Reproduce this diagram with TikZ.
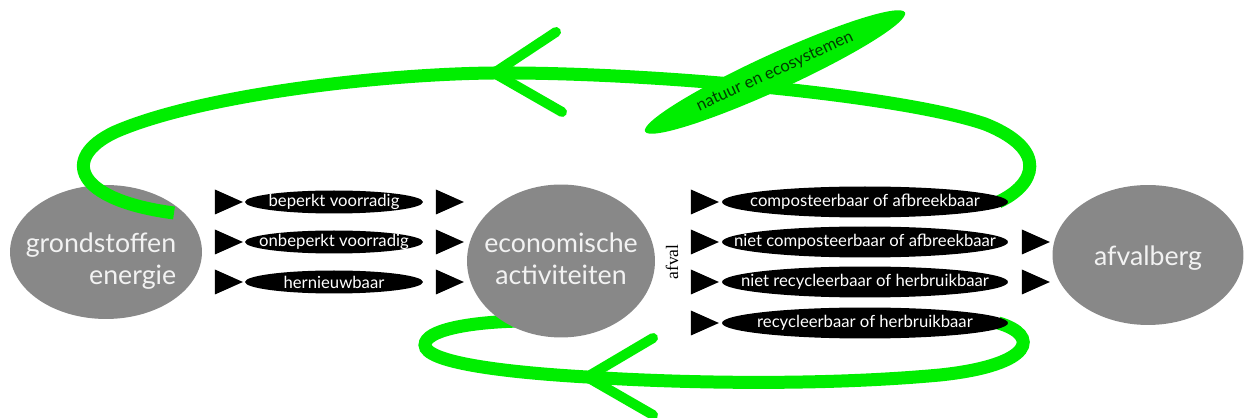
\documentclass[tikz,border=0pt]{standalone}
\usepackage{fontspec}
\setmainfont{Lato}
\newfontfamily\seriffont{Liberation Serif}
\usetikzlibrary{shapes,shapes.geometric,calc,positioning}
\definecolor{lgreen}{RGB}{0, 238, 0}
\definecolor{dgreen}{RGB}{0, 60, 0}
\definecolor{mgray}{RGB}{136, 136, 136}
\definecolor{ltext}{RGB}{242, 242, 242}
\tikzstyle{bubble} = [ellipse, fill=mgray, inner sep=0pt]
\tikzstyle{bubbletext} = [text=ltext, inner sep=0pt, font=\fontsize{15.2}{18.5}\selectfont]
\tikzstyle{kind} = [ellipse, fill=black, inner sep=0pt]
\tikzstyle{kindtext} = [text=white, inner sep=0pt, font=\fontsize{9.5}{11}\selectfont]
\tikzstyle{tri} = [isosceles triangle, isosceles triangle stretches,
  fill=black, inner sep=0pt, minimum width=0.5cm, minimum height=0.56cm]
\tikzstyle{cycleline} = [draw=lgreen, line width=0.26cm]
\tikzstyle{barb} = [draw=lgreen, line width=0.2cm, line cap=round, line join=round]
\pgfdeclarelayer{back}
\pgfdeclarelayer{loops}
\pgfsetlayers{back,loops,main}

\begin{document}
\begin{tikzpicture}[x=0.02cm, y=-0.02cm]

  \useasboundingbox (0,0) rectangle (1245,418);

  %%%%%%%%%%%%%%%%%%%%%%%%%%%%%%%%%%%%%%%%%%%%%%%%%%%%%%%%%%%%%%
  %                    GRAY BUBBLES                            %
  %%%%%%%%%%%%%%%%%%%%%%%%%%%%%%%%%%%%%%%%%%%%%%%%%%%%%%%%%%%%%%

  % the upper cycle ends on top of this one
  \begin{pgfonlayer}{back}
  \node [bubble, 
    minimum width=3.84cm, 
    minimum height=2.68cm, 
    label={[bubbletext, align=right, xshift=-0.1cm, yshift=-0.18cm]center:{grondstoffen\\energie}}] (grond) at (106,252) {};
  \end{pgfonlayer}

  \node [bubble, 
    minimum width=3.76cm, 
    minimum height=3.06cm, 
    label={[bubbletext, align=center, yshift=0.04cm]center:{economische\\activiteiten}}] (econ) at (561,261) {};
  \node [bubble, 
    minimum width=3.82cm, 
    minimum height=2.8cm,
    label={[bubbletext, yshift=-0.06cm]center:afvalberg}] (berg) at (1148,255) {};

  %%%%%%%%%%%%%%%%%%%%%%%%%%%%%%%%%%%%%%%%%%%%%%%%%%%%%%%%%%%%%%
  %                    RESOURCES                               %
  %%%%%%%%%%%%%%%%%%%%%%%%%%%%%%%%%%%%%%%%%%%%%%%%%%%%%%%%%%%%%%

  \node [kind, minimum width=3.56cm, minimum height=0.46cm,
    label={[kindtext]center:beperkt voorradig}] (beperkt) at (334,202) {};
  \node [kind, minimum width=3.56cm, minimum height=0.46cm,
    label={[kindtext]center:onbeperkt voorradig}] (onbeperkt) at (334,242) {};
  \node [kind, minimum width=3.56cm, minimum height=0.46cm,
    label={[kindtext]center:hernieuwbaar}] (hernieuw) at (334,282) {};

  %%%%%%%%%%%%%%%%%%%%%%%%%%%%%%%%%%%%%%%%%%%%%%%%%%%%%%%%%%%%%%
  %                    WASTE                                   %
  %%%%%%%%%%%%%%%%%%%%%%%%%%%%%%%%%%%%%%%%%%%%%%%%%%%%%%%%%%%%%%

  \node [kind, minimum width=5.72cm, minimum height=0.62cm,
    label={[kindtext]center:composteerbaar of afbreekbaar}] (compost) at (865,202) {};
  \node [kind, minimum width=5.72cm, minimum height=0.62cm,
    label={[kindtext]center:niet composteerbaar of afbreekbaar}] (niet-compost) at (865,242) {};
  \node [kind, minimum width=5.72cm, minimum height=0.62cm,
    label={[kindtext]center:niet recycleerbaar of herbruikbaar}] (niet-recycle) at (865,282) {};
  \node [kind, minimum width=5.72cm, minimum height=0.62cm,
    label={[kindtext]center:recycleerbaar of herbruikbaar}] (recycle) at (865,323) {};

  \node [font=\seriffont\fontsize{10}{12}\selectfont, rotate=90, inner sep=0pt] (afval) at (672,262) {afval};

  % arrow heads between the columns
  \foreach \y in {202,242,282} {
    \node [tri] (res-in-\y) at (223,\y) {};
    \node [tri] (res-out-\y) at (444,\y) {};
  }
  \foreach \y in {202,242,282,323} {
    \node [tri] (waste-in-\y) at (699,\y) {};
  }
  \node [tri] (berg-in-1) at (1030,242) {};
  \node [tri] (berg-in-2) at (1030,282) {};

  %%%%%%%%%%%%%%%%%%%%%%%%%%%%%%%%%%%%%%%%%%%%%%%%%%%%%%%%%%%%%%
  %                    GREEN CYCLES                            %
  %%%%%%%%%%%%%%%%%%%%%%%%%%%%%%%%%%%%%%%%%%%%%%%%%%%%%%%%%%%%%%

  \coordinate (top-tip) at (494,73);
  \coordinate (bot-tip) at (587,377);
  \coordinate (grond-end) at ($(grond.center)+(68,-39)$);
  \coordinate (econ-end) at ($(econ.center)+(-40,60)$);

  \begin{pgfonlayer}{loops}
  \draw [cycleline] ($(compost.east)+(-10,0)$) .. controls (1035,185) and (1050,150) .. (985,124)
    .. controls (900,95) and (650,72) .. (top-tip)
    .. controls (380,74) and (200,95) .. (115,132)
    .. controls (60,158) and (75,200) .. (grond-end);
  \draw [barb] ($(top-tip)+(62,-41)$) -- (top-tip) -- ($(top-tip)+(68,39)$);

  \draw [cycleline] ($(recycle.east)+(-10,0)$) .. controls (1040,335) and (1035,365) .. (940,375)
    .. controls (820,386) and (680,383) .. (bot-tip)
    .. controls (500,372) and (425,362) .. (425,345)
    .. controls (425,330) and (470,322) .. (econ-end);
  \draw [barb] ($(bot-tip)+(66,-39)$) -- (bot-tip) -- ($(bot-tip)+(66,38)$);
  \end{pgfonlayer}

  \node [ellipse, 
    fill=lgreen, 
    rotate=24.6, 
    inner sep=0pt,
    minimum width=5.72cm, 
    minimum height=0.72cm,
    label={[text=dgreen, rotate=24.6, inner sep=0pt, font=\fontsize{9.5}{11}\selectfont]center:natuur en ecosystemen}] (natuur) at (775,72) {};

\end{tikzpicture}
\end{document}
